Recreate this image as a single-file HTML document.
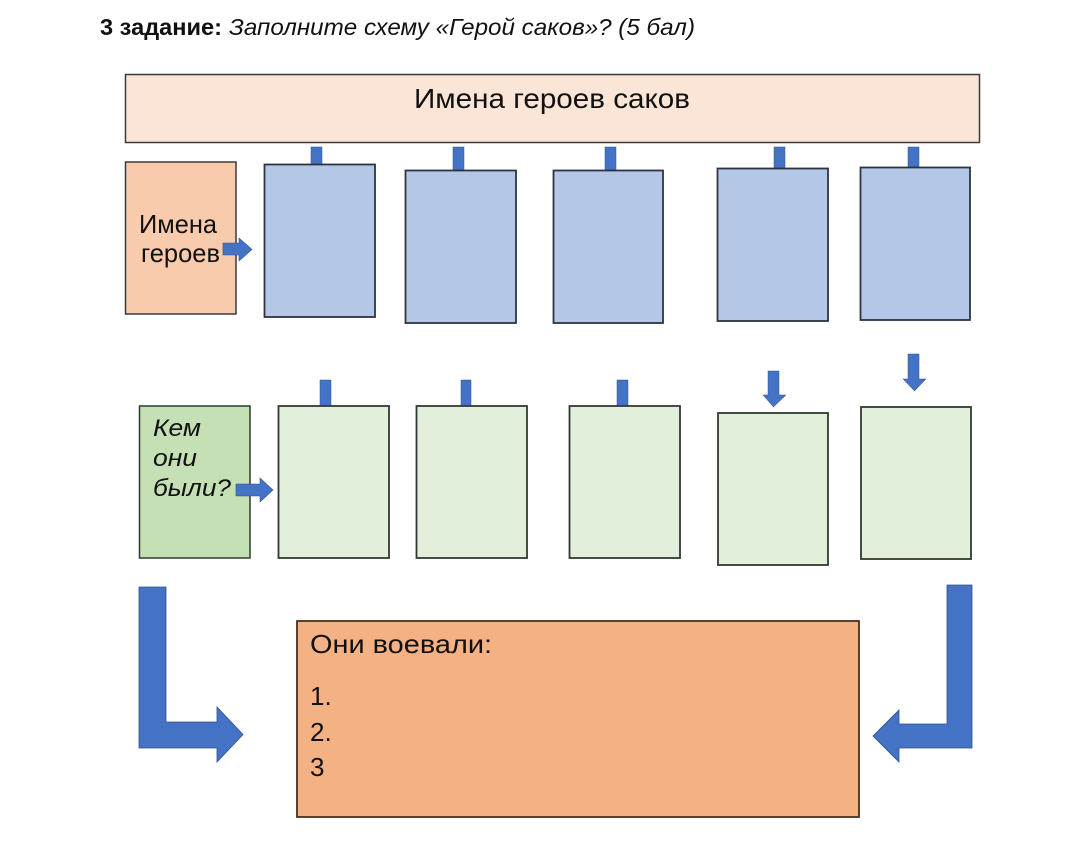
<!DOCTYPE html>
<html>
<head>
<meta charset="utf-8">
<style>
  html, body { margin:0; padding:0; background:#fff; }
  svg { display:block; }
  text { font-family: "Liberation Sans", "Noto Sans CJK SC", sans-serif; fill:#111; }
</style>
</head>
<body>
<svg width="1080" height="864" viewBox="0 0 1080 864" xmlns="http://www.w3.org/2000/svg">
  <!-- Title -->
  <text x="100" y="35" font-size="23" font-weight="bold" textLength="122" lengthAdjust="spacingAndGlyphs">3 задание:</text>
  <text x="229" y="35" font-size="23" font-style="italic" textLength="466" lengthAdjust="spacingAndGlyphs">Заполните схему «Герой саков»? (5 бал)</text>

  <!-- Top header box -->
  <rect x="125.5" y="74.5" width="854" height="68" fill="#fbe5d6" stroke="#3a3a3a" stroke-width="1.5"/>
  <text x="414" y="108" font-size="28" textLength="276" lengthAdjust="spacingAndGlyphs">Имена героев саков</text>

  <!-- Top connectors -->
  <g fill="#4472c4" stroke="#2f528f" stroke-width="0.5">
    <rect x="311" y="147" width="11" height="17"/>
    <rect x="453" y="147" width="11" height="23"/>
    <rect x="605" y="147" width="11" height="23"/>
    <rect x="774" y="147" width="11" height="21"/>
    <rect x="908" y="147" width="11" height="20"/>
  </g>

  <!-- Left orange label box -->
  <rect x="125.5" y="162" width="110.5" height="152" fill="#f8cbad" stroke="#3a3a3a" stroke-width="1.5"/>
  <text x="139" y="233" font-size="26" textLength="78" lengthAdjust="spacingAndGlyphs">Имена</text>
  <text x="141" y="262" font-size="26" textLength="79" lengthAdjust="spacingAndGlyphs">героев</text>

  <!-- Blue boxes row -->
  <g fill="#b4c7e7" stroke="#2e3440" stroke-width="1.8">
    <rect x="264.5" y="164.5" width="110.5" height="152.5"/>
    <rect x="405.5" y="170.5" width="110.5" height="152.5"/>
    <rect x="553.5" y="170.5" width="109.5" height="152.5"/>
    <rect x="717.5" y="168.5" width="110.5" height="152.5"/>
    <rect x="860.5" y="167.5" width="109.5" height="152.5"/>
  </g>

  <!-- Right arrow from Имена героев -->
  <polygon points="223,243 239,243 239,238 252,249.5 239,261 239,255 223,255" fill="#4472c4" stroke="#2f528f" stroke-width="0.6"/>

  <!-- Row 2 connectors -->
  <g fill="#4472c4" stroke="#2f528f" stroke-width="0.5">
    <rect x="320" y="380" width="11" height="26"/>
    <rect x="461" y="380" width="10" height="26"/>
    <rect x="617" y="380" width="11" height="26"/>
  </g>
  <!-- Down arrows -->
  <polygon points="768,371 779,371 779,395 786,395 773.5,407 763,395 768,395" fill="#4472c4" stroke="#2f528f" stroke-width="0.5"/>
  <polygon points="908,354 919,354 919,379 926,379 914.5,391 903,379 908,379" fill="#4472c4" stroke="#2f528f" stroke-width="0.5"/>

  <!-- Green label box -->
  <rect x="139.5" y="406" width="110.5" height="152" fill="#c5e0b4" stroke="#2e3a2e" stroke-width="1.5"/>
  <text x="153" y="436" font-size="24" font-style="italic" textLength="48" lengthAdjust="spacingAndGlyphs">Кем</text>
  <text x="153" y="466" font-size="24" font-style="italic" textLength="44" lengthAdjust="spacingAndGlyphs">они</text>
  <text x="153" y="496" font-size="24" font-style="italic" textLength="78" lengthAdjust="spacingAndGlyphs">были?</text>

  <!-- Green boxes row -->
  <g fill="#e2efda" stroke="#333833" stroke-width="1.8">
    <rect x="278.5" y="406" width="110.5" height="152"/>
    <rect x="416.5" y="406" width="110.5" height="152"/>
    <rect x="569.5" y="406" width="110.5" height="152"/>
    <rect x="718" y="413" width="110" height="152"/>
    <rect x="861" y="407" width="110" height="152"/>
  </g>

  <!-- Right arrow from Кем они были -->
  <polygon points="236,484 260,484 260,478 273,490 260,502 260,496 236,496" fill="#4472c4" stroke="#2f528f" stroke-width="0.6"/>

  <!-- Bent arrows -->
  <polygon points="139,587 166,587 166,722 217,722 217,707 243,734.5 217,762 217,748 139,748" fill="#4472c4" stroke="#2f528f" stroke-width="0.8"/>
  <polygon points="947,585 972,585 972,748 899,748 899,762 873,736 899,710 899,724 947,724" fill="#4472c4" stroke="#2f528f" stroke-width="0.8"/>

  <!-- Bottom box -->
  <rect x="297" y="621" width="562" height="196" fill="#f4b183" stroke="#4a3020" stroke-width="1.8"/>
  <text x="310" y="653" font-size="26" textLength="182" lengthAdjust="spacingAndGlyphs">Они воевали:</text>
  <text x="310" y="705" font-size="26">1.</text>
  <text x="310" y="741" font-size="26">2.</text>
  <text x="310" y="776" font-size="26">3</text>
</svg>
</body>
</html>
